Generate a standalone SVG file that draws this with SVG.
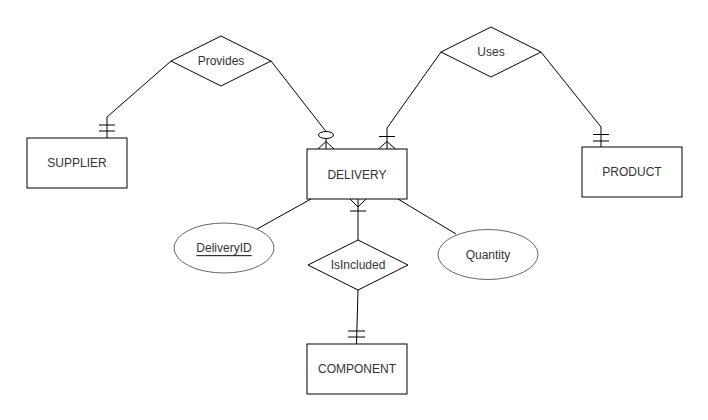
<svg xmlns="http://www.w3.org/2000/svg" width="708" height="420" viewBox="0 0 708 420">
<style>
.ent{fill:#fff;stroke:#000;stroke-width:1}
.rel{fill:#fff;stroke:#000;stroke-width:1}
.att{fill:#fff;stroke:#666;stroke-width:1}
.lbl{font-family:"Liberation Sans",Arial,sans-serif;font-size:12px;fill:#333;text-anchor:middle;dominant-baseline:central}
.c{fill:none;stroke:#000;stroke-width:1}
</style>
<rect width="708" height="420" fill="#fff"/>
<g id="connectors">
  <!-- SUPPLIER - Provides -->
  <polyline class="c" points="171,61 107,117 107,138"/>
  <line class="c" x1="99" y1="125" x2="115" y2="125"/>
  <line class="c" x1="99" y1="131" x2="115" y2="131"/>
  <!-- Provides - DELIVERY -->
  <polyline class="c" points="271,61 326,131.5"/>
  <ellipse class="c" cx="326" cy="135" rx="7.5" ry="3.5" fill="#fff"/>
  <line class="c" x1="326" y1="138.5" x2="326" y2="149"/>
  <polyline class="c" points="318,149 326,141.5 334,149"/>
  <!-- Uses - DELIVERY -->
  <polyline class="c" points="441,52 387,128 387,149"/>
  <line class="c" x1="379" y1="136.5" x2="395" y2="136.5"/>
  <polyline class="c" points="378.5,149 387,141.5 395.5,149"/>
  <!-- Uses - PRODUCT -->
  <polyline class="c" points="541,52 601,127 601,147"/>
  <line class="c" x1="593" y1="134.5" x2="609" y2="134.5"/>
  <line class="c" x1="593" y1="141" x2="609" y2="141"/>
  <!-- DELIVERY - IsIncluded -->
  <line class="c" x1="358" y1="199" x2="358" y2="240"/>
  <polyline class="c" points="350,199 358,207 366,199"/>
  <line class="c" x1="350" y1="211" x2="366" y2="211"/>
  <!-- IsIncluded - COMPONENT -->
  <line class="c" x1="358" y1="290" x2="356.5" y2="344"/>
  <line class="c" x1="348" y1="331" x2="365" y2="331"/>
  <line class="c" x1="348" y1="337" x2="365" y2="337"/>
  <!-- DELIVERY - attributes -->
  <line class="c" x1="311" y1="199" x2="257" y2="229"/>
  <line class="c" x1="398" y1="199" x2="456" y2="234"/>
</g>
<g id="supplier">
  <rect class="ent" x="27" y="138" width="100" height="50"/>
  <text class="lbl" x="77" y="163">SUPPLIER</text>
</g>
<g id="delivery">
  <rect class="ent" x="307" y="149" width="100" height="50"/>
  <text class="lbl" x="357" y="175">DELIVERY</text>
</g>
<g id="product">
  <rect class="ent" x="582" y="147" width="100" height="50"/>
  <text class="lbl" x="632" y="172">PRODUCT</text>
</g>
<g id="component">
  <rect class="ent" x="307" y="344" width="100" height="50"/>
  <text class="lbl" x="357" y="369">COMPONENT</text>
</g>
<g id="provides">
  <polygon class="rel" points="221,36 271,61 221,86 171,61"/>
  <text class="lbl" x="221" y="61">Provides</text>
</g>
<g id="uses">
  <polygon class="rel" points="491,27 541,52 491,77 441,52"/>
  <text class="lbl" x="491" y="52">Uses</text>
</g>
<g id="isincluded">
  <polygon class="rel" points="358,240 408,265 358,290 308,265"/>
  <text class="lbl" x="358" y="265">IsIncluded</text>
</g>
<g id="deliveryid">
  <ellipse class="att" cx="224" cy="248" rx="50" ry="25"/>
  <text class="lbl" x="224" y="248" text-decoration="underline">DeliveryID</text>
</g>
<g id="quantity">
  <ellipse class="att" cx="488" cy="254.5" rx="50" ry="25"/>
  <text class="lbl" x="488" y="254.5">Quantity</text>
</g>
</svg>
